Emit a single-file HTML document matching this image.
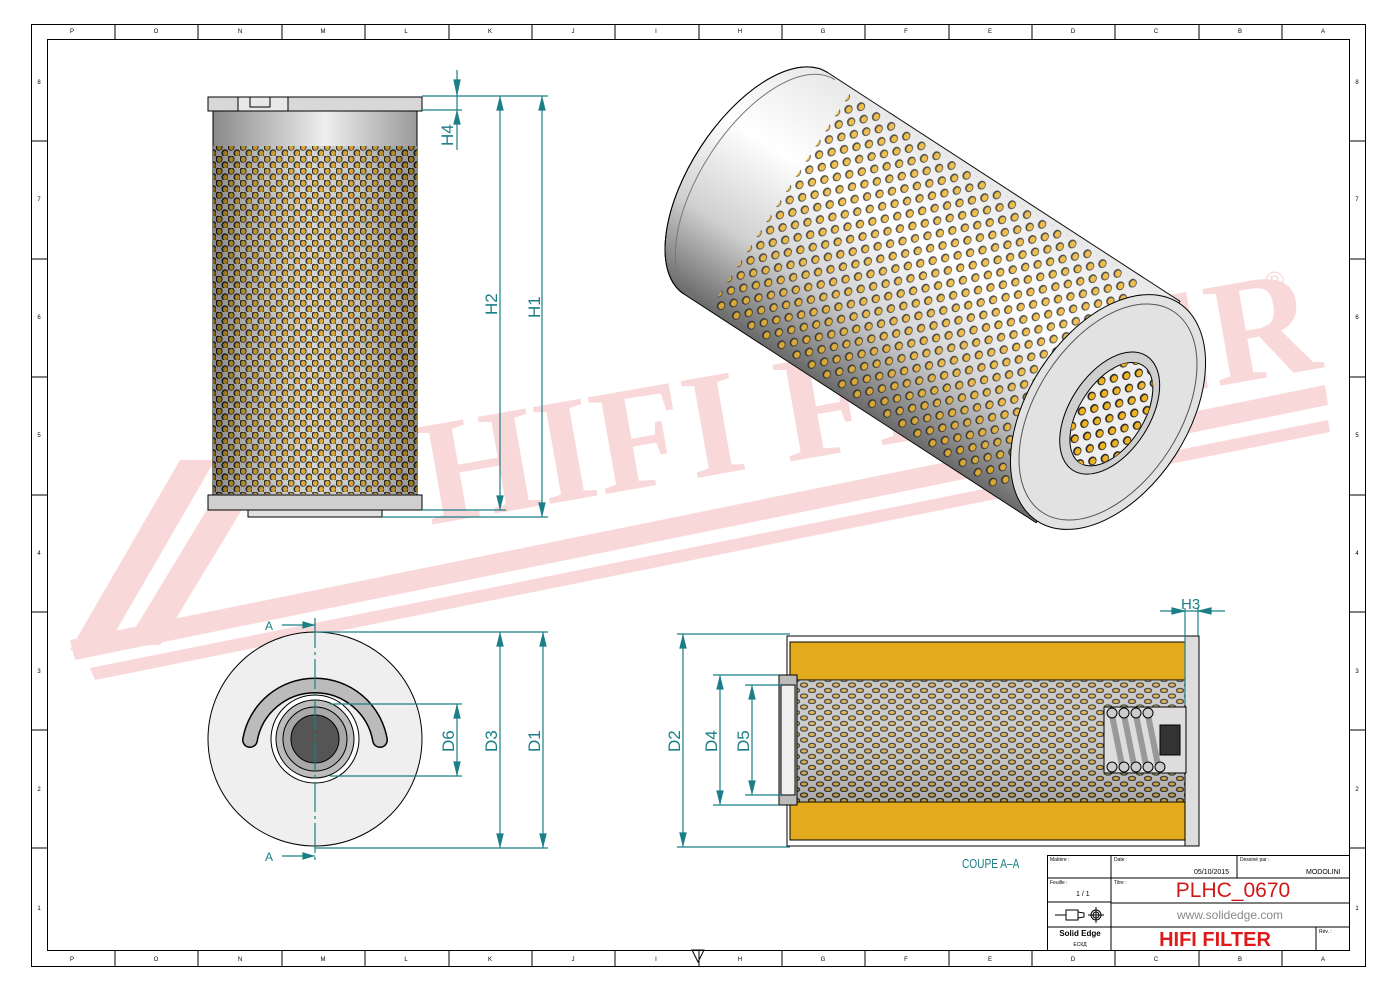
<!DOCTYPE html>
<html><head><meta charset="utf-8"><style>
html,body{margin:0;padding:0;background:#fff}
svg{display:block}
</style></head><body>
<svg width="1400" height="992" viewBox="0 0 1400 992" xmlns="http://www.w3.org/2000/svg" font-family="Liberation Sans, sans-serif">
<defs>
<pattern id="perf" width="12" height="12" patternUnits="userSpaceOnUse">
<rect width="12" height="12" fill="#cfcfcf"/>
<ellipse cx="3" cy="3" rx="3.6" ry="3.8" fill="#1a1a1a"/><ellipse cx="3.3" cy="3.3" rx="2.3" ry="2.7" fill="#d9a21e"/>
<ellipse cx="9" cy="9" rx="3.6" ry="3.8" fill="#1a1a1a"/><ellipse cx="9.3" cy="9.3" rx="2.3" ry="2.7" fill="#d9a21e"/>
</pattern>
<pattern id="perf2" width="18" height="18" patternUnits="userSpaceOnUse">
<ellipse cx="4.5" cy="4.5" rx="4" ry="4.6" fill="#222"/><ellipse cx="5" cy="4.5" rx="2.8" ry="3.4" fill="#f0b324"/>
<ellipse cx="13.5" cy="13.5" rx="4" ry="4.6" fill="#222"/><ellipse cx="14" cy="13.5" rx="2.8" ry="3.4" fill="#f0b324"/>
</pattern>
<pattern id="perf3" width="16" height="11" patternUnits="userSpaceOnUse">
<rect width="16" height="11" fill="#bdbdbd"/>
<ellipse cx="4" cy="3" rx="4.2" ry="2.8" fill="#1a1a1a"/><ellipse cx="4" cy="3" rx="2.8" ry="1.5" fill="#e0a41f"/>
<ellipse cx="12" cy="8.5" rx="4.2" ry="2.8" fill="#1a1a1a"/><ellipse cx="12" cy="8.5" rx="2.8" ry="1.5" fill="#e0a41f"/>
</pattern>
<linearGradient id="cyl" x1="0" x2="1" y1="0" y2="0">
<stop offset="0" stop-color="#8a8a8a"/><stop offset="0.55" stop-color="#eeeeee"/><stop offset="1" stop-color="#9a9a9a"/>
</linearGradient>
<linearGradient id="cylv" x1="0" x2="0" y1="0" y2="1">
<stop offset="0" stop-color="#e8e8e8"/><stop offset="0.35" stop-color="#ffffff"/><stop offset="0.7" stop-color="#d0d0d0"/><stop offset="1" stop-color="#6a6a6a"/>
</linearGradient>
<linearGradient id="shade" x1="0" x2="1"><stop offset="0" stop-color="#000" stop-opacity="0.35"/><stop offset="0.5" stop-color="#fff" stop-opacity="0.1"/><stop offset="1" stop-color="#000" stop-opacity="0.3"/></linearGradient>
<clipPath id="bodyclip"><path d="M-420 -132 L0 -132 L0 132 L-420 132 A66 132 0 0 1 -420 -132 Z"/></clipPath>
</defs>

<!-- frame -->
<rect x="31.5" y="24.5" width="1334" height="942" fill="none" stroke="#000"/>
<rect x="47.5" y="39.5" width="1302" height="911" fill="none" stroke="#000"/>
<g stroke="#000" stroke-width="1">
<line x1="115" y1="24" x2="115" y2="39"/><line x1="198" y1="24" x2="198" y2="39"/><line x1="282" y1="24" x2="282" y2="39"/><line x1="365" y1="24" x2="365" y2="39"/><line x1="449" y1="24" x2="449" y2="39"/><line x1="532" y1="24" x2="532" y2="39"/><line x1="615" y1="24" x2="615" y2="39"/><line x1="699" y1="24" x2="699" y2="39"/><line x1="782" y1="24" x2="782" y2="39"/><line x1="865" y1="24" x2="865" y2="39"/><line x1="949" y1="24" x2="949" y2="39"/><line x1="1032" y1="24" x2="1032" y2="39"/><line x1="1115" y1="24" x2="1115" y2="39"/><line x1="1199" y1="24" x2="1199" y2="39"/><line x1="1282" y1="24" x2="1282" y2="39"/>
<line x1="115" y1="950" x2="115" y2="966"/><line x1="198" y1="950" x2="198" y2="966"/><line x1="282" y1="950" x2="282" y2="966"/><line x1="365" y1="950" x2="365" y2="966"/><line x1="449" y1="950" x2="449" y2="966"/><line x1="532" y1="950" x2="532" y2="966"/><line x1="615" y1="950" x2="615" y2="966"/><line x1="699" y1="950" x2="699" y2="966"/><line x1="782" y1="950" x2="782" y2="966"/><line x1="865" y1="950" x2="865" y2="966"/><line x1="949" y1="950" x2="949" y2="966"/><line x1="1032" y1="950" x2="1032" y2="966"/><line x1="1115" y1="950" x2="1115" y2="966"/><line x1="1199" y1="950" x2="1199" y2="966"/><line x1="1282" y1="950" x2="1282" y2="966"/>
<line x1="31" y1="141" x2="47" y2="141"/><line x1="31" y1="259" x2="47" y2="259"/><line x1="31" y1="377" x2="47" y2="377"/><line x1="31" y1="495" x2="47" y2="495"/><line x1="31" y1="612" x2="47" y2="612"/><line x1="31" y1="730" x2="47" y2="730"/><line x1="31" y1="848" x2="47" y2="848"/>
<line x1="1349" y1="141" x2="1365" y2="141"/><line x1="1349" y1="259" x2="1365" y2="259"/><line x1="1349" y1="377" x2="1365" y2="377"/><line x1="1349" y1="495" x2="1365" y2="495"/><line x1="1349" y1="612" x2="1365" y2="612"/><line x1="1349" y1="730" x2="1365" y2="730"/><line x1="1349" y1="848" x2="1365" y2="848"/>
</g>
<g font-size="6" fill="#000" text-anchor="middle">
<text x="72" y="961">P</text><text x="156" y="961">O</text><text x="240" y="961">N</text><text x="323" y="961">M</text><text x="406" y="961">L</text><text x="490" y="961">K</text><text x="573" y="961">J</text><text x="656" y="961">I</text><text x="740" y="961">H</text><text x="823" y="961">G</text><text x="906" y="961">F</text><text x="990" y="961">E</text><text x="1073" y="961">D</text><text x="1156" y="961">C</text><text x="1240" y="961">B</text><text x="1323" y="961">A</text>
<text x="72" y="33">P</text><text x="156" y="33">O</text><text x="240" y="33">N</text><text x="323" y="33">M</text><text x="406" y="33">L</text><text x="490" y="33">K</text><text x="573" y="33">J</text><text x="656" y="33">I</text><text x="740" y="33">H</text><text x="823" y="33">G</text><text x="906" y="33">F</text><text x="990" y="33">E</text><text x="1073" y="33">D</text><text x="1156" y="33">C</text><text x="1240" y="33">B</text><text x="1323" y="33">A</text>
<text x="1357" y="84">8</text><text x="1357" y="201">7</text><text x="1357" y="319">6</text><text x="1357" y="437">5</text><text x="1357" y="555">4</text><text x="1357" y="673">3</text><text x="1357" y="791">2</text><text x="1357" y="910">1</text>
<text x="39" y="84">8</text><text x="39" y="201">7</text><text x="39" y="319">6</text><text x="39" y="437">5</text><text x="39" y="555">4</text><text x="39" y="673">3</text><text x="39" y="791">2</text><text x="39" y="910">1</text>
</g>
<path d="M692 950 L704 950 L698 962 Z" fill="none" stroke="#000"/>

<!-- watermark -->
<g opacity="0.17" fill="#e0202a">
<polygon points="70,650 180,460 215,460 105,650"/>
<polygon points="125,645 240,455 275,455 160,645"/>
<polygon points="70,640 1325,385 1328,405 75,660"/>
<polygon points="90,668 1328,420 1330,432 95,680"/>
<text x="0" y="0" style="font-family:'Liberation Serif',serif;font-weight:bold;font-size:150px" transform="translate(430,525) rotate(-10)">HIFI FILTER</text>
<text x="1265" y="290" font-size="26">®</text>
</g>

<!-- front view -->
<rect x="213" y="108" width="204" height="390" fill="url(#cyl)" stroke="#000"/>
<rect x="213" y="146" width="204" height="348" fill="url(#perf)"/>
<rect x="213" y="146" width="204" height="348" fill="url(#shade)"/>
<rect x="208" y="97" width="214" height="14" fill="#d8d8d8" stroke="#000"/>
<rect x="238" y="97" width="50" height="14" fill="#e8e8e8" stroke="#000"/>
<rect x="250" y="97" width="20" height="10" fill="none" stroke="#000"/>
<rect x="208" y="495" width="214" height="15" fill="#cfcfcf" stroke="#000"/>
<rect x="248" y="510" width="134" height="7" fill="#e0e0e0" stroke="#000"/>

<!-- dims front -->
<g stroke="#1a7f86" stroke-width="1.2" fill="#1a7f86">
<line x1="422" y1="96" x2="548" y2="96"/><line x1="422" y1="110" x2="462" y2="110"/>
<line x1="382" y1="517" x2="548" y2="517"/><line x1="422" y1="510" x2="506" y2="510"/>
<line x1="457" y1="70" x2="457" y2="150"/>
<path d="M454 80 L460 80 L457 94 Z"/><path d="M454 124 L460 124 L457 112 Z"/>
<line x1="500" y1="96" x2="500" y2="510"/><path d="M497 110 L503 110 L500 98 Z"/><path d="M497 496 L503 496 L500 508 Z"/>
<line x1="542" y1="96" x2="542" y2="517"/><path d="M539 110 L545 110 L542 98 Z"/><path d="M539 503 L545 503 L542 515 Z"/>
</g>
<g fill="#1a7f86" font-size="17">
<text transform="translate(453,146) rotate(-90)">H4</text>
<text transform="translate(497,315) rotate(-90)">H2</text>
<text transform="translate(540,318) rotate(-90)">H1</text>
</g>

<!-- iso view -->
<g transform="translate(1108,412) rotate(33)">
<path d="M-420 -132 L0 -132 L0 132 L-420 132 A66 132 0 0 1 -420 -132 Z" fill="url(#cylv)" stroke="#000"/>
<g clip-path="url(#bodyclip)">
<rect x="-390" y="-126" width="345" height="252" fill="url(#perf2)"/>
<rect x="-490" y="-132" width="490" height="264" fill="url(#cylv)" opacity="0.2"/>
</g>
<path d="M-420 -132 A66 132 0 0 0 -420 132" fill="none" stroke="#000"/>
<path d="M-410 -130 A64 130 0 0 0 -410 130" fill="none" stroke="#777"/>
<ellipse cx="0" cy="0" rx="80" ry="130" fill="#e2e2e2" stroke="#000"/>
<ellipse cx="0" cy="0" rx="72" ry="120" fill="none" stroke="#555"/>
<ellipse cx="2" cy="0" rx="40" ry="68" fill="#cfcfcf" stroke="#000"/>
<ellipse cx="4" cy="0" rx="32" ry="58" fill="#eee" stroke="#000"/>
<ellipse cx="4" cy="0" rx="32" ry="58" fill="url(#perf2)"/>
</g>

<!-- end view -->
<circle cx="315" cy="739" r="107" fill="#efefef" stroke="#000"/>
<path d="M250 740 A66 66 0 0 1 380 740" fill="none" stroke="#000" stroke-width="16" stroke-linecap="round"/>
<path d="M250 740 A66 66 0 0 1 380 740" fill="none" stroke="#bbb" stroke-width="13" stroke-linecap="round"/>
<circle cx="315" cy="739" r="44" fill="#fff" stroke="#000"/>
<circle cx="315" cy="739" r="39" fill="#bcbcbc" stroke="#000"/>
<circle cx="315" cy="739" r="32" fill="#a8a8a8" stroke="#000"/>
<circle cx="315" cy="739" r="24" fill="#555" stroke="#000"/>
<g stroke="#1a7f86" stroke-width="1.2" fill="#1a7f86">
<line x1="315" y1="618" x2="315" y2="862" stroke-dasharray="30,4,3,4"/>
<line x1="282" y1="625" x2="315" y2="625"/><path d="M303 622 L313 625 L303 628 Z"/>
<line x1="282" y1="856" x2="315" y2="856"/><path d="M303 853 L313 856 L303 859 Z"/>
<line x1="315" y1="632" x2="548" y2="632"/><line x1="315" y1="848" x2="548" y2="848"/>
<line x1="330" y1="704" x2="462" y2="704"/><line x1="330" y1="776" x2="462" y2="776"/>
<line x1="457" y1="704" x2="457" y2="776"/><path d="M454 718 L460 718 L457 706 Z"/><path d="M454 762 L460 762 L457 774 Z"/>
<line x1="500" y1="632" x2="500" y2="848"/><path d="M497 646 L503 646 L500 634 Z"/><path d="M497 834 L503 834 L500 846 Z"/>
<line x1="543" y1="632" x2="543" y2="848"/><path d="M540 646 L546 646 L543 634 Z"/><path d="M540 834 L546 834 L543 846 Z"/>
</g>
<g fill="#1a7f86" font-size="17">
<text x="265" y="630" font-size="12">A</text><text x="265" y="861" font-size="12">A</text>
<text transform="translate(454,752) rotate(-90)">D6</text>
<text transform="translate(497,752) rotate(-90)">D3</text>
<text transform="translate(540,752) rotate(-90)">D1</text>
</g>

<!-- section view -->
<rect x="787" y="636" width="412" height="210" fill="#fff" stroke="#000"/>
<rect x="790" y="642" width="404" height="38" fill="#e3ab1d" stroke="#000"/>
<rect x="790" y="802" width="404" height="38" fill="#e3ab1d" stroke="#000"/>
<rect x="790" y="680" width="404" height="122" fill="url(#perf3)" stroke="#000"/>
<rect x="790" y="680" width="404" height="122" fill="url(#cylv)" opacity="0.25"/>
<rect x="779" y="675" width="18" height="130" fill="#bbb" stroke="#000"/>
<rect x="781" y="685" width="14" height="110" fill="#eee" stroke="#000"/>
<rect x="1185" y="636" width="14" height="210" fill="#ddd" stroke="#000"/>
<rect x="1104" y="707" width="82" height="66" fill="#ddd" stroke="#000"/>
<g stroke="#000" fill="#ccc">
<path d="M1112 715 L1122 765 M1124 715 L1134 765 M1136 715 L1146 765 M1148 715 L1158 765" stroke-width="6" stroke="#999"/>
<circle cx="1112" cy="713" r="5"/><circle cx="1124" cy="713" r="5"/><circle cx="1136" cy="713" r="5"/><circle cx="1148" cy="713" r="5"/>
<circle cx="1112" cy="767" r="5"/><circle cx="1124" cy="767" r="5"/><circle cx="1136" cy="767" r="5"/><circle cx="1148" cy="767" r="5"/><circle cx="1160" cy="767" r="5"/>
<rect x="1160" y="725" width="20" height="30" fill="#333"/>
</g>
<g stroke="#1a7f86" stroke-width="1.2" fill="#1a7f86">
<line x1="677" y1="634" x2="790" y2="634"/><line x1="677" y1="847" x2="790" y2="847"/>
<line x1="683" y1="634" x2="683" y2="847"/><path d="M680 648 L686 648 L683 636 Z"/><path d="M680 833 L686 833 L683 845 Z"/>
<line x1="713" y1="675" x2="779" y2="675"/><line x1="713" y1="805" x2="779" y2="805"/>
<line x1="720" y1="675" x2="720" y2="805"/><path d="M717 689 L723 689 L720 677 Z"/><path d="M717 791 L723 791 L720 803 Z"/>
<line x1="745" y1="685" x2="781" y2="685"/><line x1="745" y1="795" x2="781" y2="795"/>
<line x1="752" y1="685" x2="752" y2="795"/><path d="M749 699 L755 699 L752 687 Z"/><path d="M749 781 L755 781 L752 793 Z"/>
<line x1="1185" y1="608" x2="1185" y2="705"/><line x1="1198" y1="608" x2="1198" y2="636"/>
<line x1="1160" y1="611" x2="1225" y2="611"/><path d="M1172 608 L1184 611 L1172 614 Z"/><path d="M1211 608 L1199 611 L1211 614 Z"/>
</g>
<g fill="#1a7f86" font-size="17">
<text transform="translate(680,752) rotate(-90)">D2</text>
<text transform="translate(717,752) rotate(-90)">D4</text>
<text transform="translate(749,752) rotate(-90)">D5</text>
<text x="1181" y="609" font-size="15">H3</text>
<text font-size="13" transform="translate(962,868) scale(0.78,1)">COUPE A–A</text>
</g>

<!-- title block -->
<g stroke="#000" fill="none">
<rect x="1047.5" y="855.5" width="302" height="95"/>
<line x1="1111" y1="855" x2="1111" y2="950"/>
<line x1="1047" y1="878" x2="1349" y2="878"/>
<line x1="1047" y1="902" x2="1111" y2="902"/>
<line x1="1047" y1="927" x2="1349" y2="927"/>
<line x1="1111" y1="903" x2="1349" y2="903"/>
<line x1="1237" y1="855" x2="1237" y2="878"/>
<line x1="1316" y1="927" x2="1316" y2="950"/>
<path d="M1055 915 H1066 M1066 910 H1078 V920 H1066 Z M1078 912 L1084 913 V917 L1078 918" />
<circle cx="1096" cy="915" r="5"/><circle cx="1096" cy="915" r="3"/><path d="M1088 915 H1104 M1096 907 V923"/>
</g>
<g font-size="5" fill="#000">
<text x="1050" y="861">Matière :</text><text x="1114" y="861">Date :</text><text x="1240" y="861">Dessiné par :</text>
<text x="1050" y="884">Feuille :</text><text x="1114" y="884">Titre :</text><text x="1319" y="933">Rév. :</text>
</g>
<text x="1194" y="874" font-size="7">05/10/2015</text>
<text x="1306" y="874" font-size="7">MODOLINI</text>
<text x="1076" y="896" font-size="7">1 / 1</text>
<text x="1233" y="897" font-size="21" fill="#d01818" text-anchor="middle">PLHC_0670</text>
<text x="1230" y="919" font-size="12" fill="#888" text-anchor="middle">www.solidedge.com</text>
<text x="1080" y="936" font-size="8" font-weight="bold" text-anchor="middle">Solid Edge</text>
<text x="1080" y="946" font-size="5" text-anchor="middle">ЕСКД</text>
<text x="1215" y="946" font-size="20" font-weight="bold" fill="#e01a1a" text-anchor="middle">HIFI FILTER</text>
</svg>
</body></html>
